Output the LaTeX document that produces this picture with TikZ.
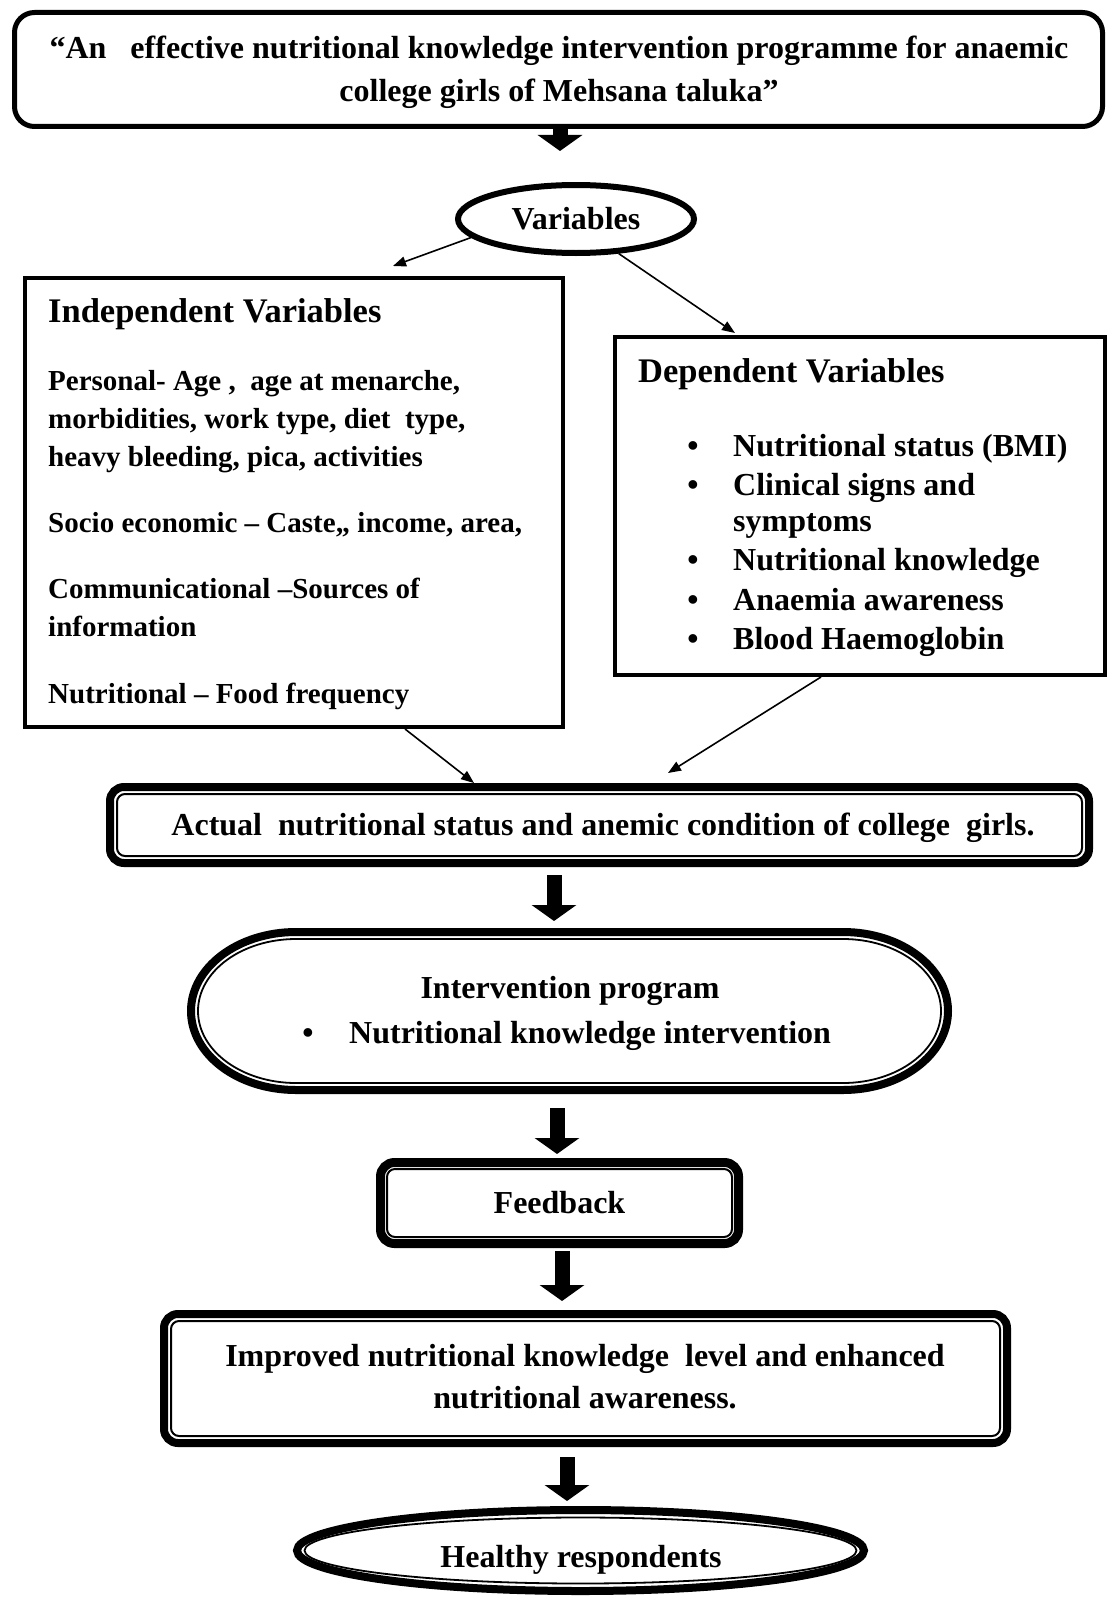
\documentclass[tikz,border=0pt]{standalone}
\usepackage{fontspec}
\setmainfont{Liberation Serif}
\usetikzlibrary{arrows.meta,shapes.geometric,calc}
\begin{document}
\begin{tikzpicture}[x=1pt,y=-1pt,
  mainfs/.style={font=\fontsize{32}{42}\selectfont\bfseries},
  bodyfs/.style={font=\fontsize{29}{38}\selectfont\bfseries},
  titlefs/.style={font=\fontsize{34.5}{40}\selectfont\bfseries},
  txt/.style={inner sep=0pt},
  plainbox/.style={draw, line width=4pt},
  dblbox/.style={draw, line width=8pt, rounded corners=14pt},
  innerline/.style={line width=2pt, rounded corners=8pt},
  thinarrow/.style={line width=1.6pt, -{Triangle[length=13pt,width=10pt]}},
  blockarrow/.style={line width=15pt, -{Triangle[length=16pt,width=44pt]}}]
\useasboundingbox (0,0) rectangle (1108,1600);

% title box
\node[draw, line width=5pt, rounded corners=20pt, minimum width=1088pt, minimum height=114pt] (title) at (558.5,69.5) {};
\node[txt, mainfs, anchor=base] (t1) at (559,58.5) {“An\ \ \ effective nutritional knowledge intervention programme for anaemic};
\node[txt, mainfs, anchor=base] (t2) at (559,101.5) {college girls of Mehsana taluka”};

% variables ellipse
\node[ellipse, minimum width=242pt, minimum height=74pt, inner sep=0pt, outer sep=0pt, mainfs] (var) at (576,219) {Variables};
\draw[line width=6pt] (var.center) ellipse [x radius=118pt, y radius=34pt];

% independent box
\node[plainbox, minimum width=538pt, minimum height=449pt] (indep) at (294,502.5) {};
\node[txt, titlefs, anchor=base west] (indt) at (48,322) {Independent Variables};
\node[txt, bodyfs, anchor=base west] (i1) at (48,390) {Personal- Age ,\ \ age at menarche,};
\node[txt, bodyfs, anchor=base west] (i2) at (48,428) {morbidities, work type, diet\ \ type,};
\node[txt, bodyfs, anchor=base west] (i3) at (48,466) {heavy bleeding, pica, activities};
\node[txt, bodyfs, anchor=base west] (i4) at (48,532) {Socio economic – Caste,, income, area,};
\node[txt, bodyfs, anchor=base west] (i5) at (48,598) {Communicational –Sources of};
\node[txt, bodyfs, anchor=base west] (i6) at (48,636) {information};
\node[txt, bodyfs, anchor=base west] (i7) at (48,703) {Nutritional – Food frequency};

% dependent box
\node[plainbox, minimum width=490pt, minimum height=338pt] (dep) at (860,506) {};
\node[txt, titlefs, anchor=base west] (dept) at (638,382) {Dependent Variables};
\node[txt, mainfs, anchor=base] (b1) at (693,456) {•};
\node[txt, mainfs, anchor=base west] (d1) at (733,456) {Nutritional status (BMI)};
\node[txt, mainfs, anchor=base] (b2) at (693,495) {•};
\node[txt, mainfs, anchor=base west] (d2) at (733,495) {Clinical signs and};
\node[txt, mainfs, anchor=base west] (d3) at (733,531) {symptoms};
\node[txt, mainfs, anchor=base] (b3) at (693,570) {•};
\node[txt, mainfs, anchor=base west] (d4) at (733,570) {Nutritional knowledge};
\node[txt, mainfs, anchor=base] (b4) at (693,610) {•};
\node[txt, mainfs, anchor=base west] (d5) at (733,610) {Anaemia awareness};
\node[txt, mainfs, anchor=base] (b5) at (693,649) {•};
\node[txt, mainfs, anchor=base west] (d6) at (733,649) {Blood Haemoglobin};

% actual box
\node[dblbox, minimum width=979pt, minimum height=76pt] (act) at (599.5,825) {};
\draw[innerline] ([xshift=11pt,yshift=-11pt]act.north west) rectangle ([xshift=-11pt,yshift=11pt]act.south east);
\node[txt, mainfs, anchor=base] (actt) at (603,835) {Actual\ \ nutritional status and anemic condition of college\ \ girls.};

% intervention stadium
\node[minimum width=765pt, minimum height=166pt, outer sep=0pt, inner sep=0pt] (interv) at (569.5,1011) {};
\draw[line width=8pt] ($(interv.north west)+(109,4)$) -- ($(interv.north east)+(-109,4)$)
  arc[start angle=90, end angle=-90, x radius=105pt, y radius=79pt]
  -- ($(interv.south west)+(109,-4)$)
  arc[start angle=-90, end angle=-270, x radius=105pt, y radius=79pt] -- cycle;
\draw[line width=1.8pt] ($(interv.north west)+(109,11)$) -- ($(interv.north east)+(-109,11)$)
  arc[start angle=90, end angle=-90, x radius=98pt, y radius=72pt]
  -- ($(interv.south west)+(109,-11)$)
  arc[start angle=-90, end angle=-270, x radius=98pt, y radius=72pt] -- cycle;
\node[txt, mainfs, anchor=base] (intt) at (570,998) {Intervention program};
\node[txt, mainfs, anchor=base] (ib) at (308,1043) {•};
\node[txt, mainfs, anchor=base west] (it) at (349,1043) {Nutritional knowledge intervention};

% feedback
\node[dblbox, line width=9pt, minimum width=358pt, minimum height=81pt, mainfs, inner sep=0pt] (fb) at (559.5,1203) {Feedback};
\draw[innerline] ([xshift=11pt,yshift=-11pt]fb.north west) rectangle ([xshift=-11pt,yshift=11pt]fb.south east);

% improved
\node[dblbox, minimum width=843pt, minimum height=129pt] (imp) at (585.5,1378.5) {};
\draw[innerline] ([xshift=11pt,yshift=-11pt]imp.north west) rectangle ([xshift=-11pt,yshift=11pt]imp.south east);
\node[txt, mainfs, anchor=base] (impt1) at (585,1366) {Improved nutritional knowledge\ \ level and enhanced};
\node[txt, mainfs, anchor=base] (impt2) at (585,1408) {nutritional awareness.};

% healthy
\node[ellipse, minimum width=575pt, minimum height=89pt, inner sep=0pt, outer sep=0pt] (hr) at (580.5,1550.5) {};
\draw[line width=8pt] (hr.center) ellipse [x radius=283.5pt, y radius=40.5pt];
\draw[line width=1.8pt] (hr.center) ellipse [x radius=276pt, y radius=33pt];
\node[txt, mainfs, anchor=base] (hrt) at (581,1567) {Healthy respondents};

% thin arrows
\draw[thinarrow] (var.190) -- ([xshift=99pt,yshift=10pt]indep.north);
\draw[thinarrow] (var.-39) -- ([xshift=-125pt,yshift=2pt]dep.north);
\draw[thinarrow] ([xshift=111pt]indep.south) -- ([xshift=-125.5pt]act.north);
\draw[thinarrow] ([xshift=-39pt]dep.south) -- ([xshift=68.5pt,yshift=10pt]act.north);

% block arrows
\draw[blockarrow, shorten >=31pt] ([xshift=1.5pt]title.south) -- ([xshift=1.5pt]title.south |- var.north);
\draw[blockarrow, shorten <=8pt, shorten >=7pt] ([xshift=-45.5pt]act.south) -- ([xshift=-45.5pt]act.south |- interv.north);
\draw[blockarrow, shorten <=14pt, shorten >=4pt] ([xshift=-12.5pt]interv.south) -- ([xshift=-12.5pt]interv.south |- fb.north);
\draw[blockarrow, shorten <=3pt, shorten >=9pt] ([xshift=2.5pt]fb.south) -- ([xshift=2.5pt]fb.south |- imp.north);
\draw[blockarrow, shorten <=10pt, shorten >=5pt] ([xshift=-18.5pt]imp.south) -- ([xshift=-18.5pt]imp.south |- hr.north);
\end{tikzpicture}
\end{document}
